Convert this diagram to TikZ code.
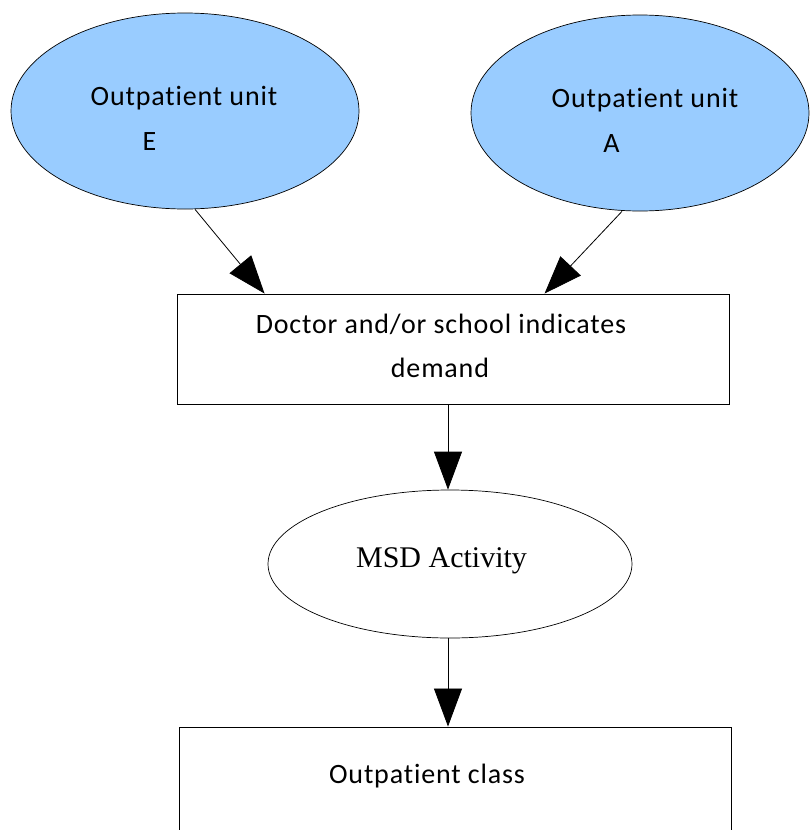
\documentclass[tikz,border=0pt]{standalone}
\usepackage{fontspec}
\setmainfont{Carlito}[LetterSpace=3,Ligatures=NoCommon]
\newfontfamily\serifmsd{Liberation Serif}
\usetikzlibrary{shapes.geometric,arrows.meta}
\definecolor{unitblue}{HTML}{99CCFF}
\tikzset{
  unit/.style={ellipse, draw=black, fill=unitblue, line width=0.7pt, inner sep=0pt},
  activity/.style={ellipse, draw=black, fill=white, line width=0.7pt, inner sep=0pt},
  boxnode/.style={rectangle, draw=black, line width=0.9pt, inner sep=0pt},
  lbl/.style={anchor=base, inner sep=0pt, font=\fontsize{28}{28}\selectfont},
  flow/.style={line width=0.8pt, -{Triangle[length=38pt,width=28pt]}}
}
\begin{document}
\begin{tikzpicture}[x=1pt,y=-1pt]
\useasboundingbox (0,0) rectangle (809,830);
% shapes
\node[unit, minimum width=348pt, minimum height=196pt] (ue) at (185,111) {};
\node[unit, minimum width=338pt, minimum height=196pt] (ua) at (640,113) {};
\node[boxnode, minimum width=552pt, minimum height=110pt] (b1) at (453,349) {};
\node[activity, minimum width=364pt, minimum height=148pt] (msd) at (450,564) {};
\node[boxnode, minimum width=552pt, minimum height=160pt] (b2) at (455,807) {};
% texts
\node[lbl] (tue1) at (184,105) {Outpatient unit};
\node[lbl] (tue2) at (149.5,150) {E};
\node[lbl] (tua1) at (645,107) {Outpatient unit};
\node[lbl] (tua2) at (611.5,152) {A};
\node[lbl] (tb1a) at (441,333) {Doctor and/or school indicates};
\node[lbl] (tb1b) at (440,377) {demand};
\node[anchor=base, inner sep=0pt, font=\serifmsd\fontsize{30}{30}\selectfont] (tmsd) at (441.5,567) {MSD Activity};
\node[lbl] (tb2) at (427,783) {Outpatient class};
% connectors
\draw[flow] ([xshift=10pt]ue.south) -- ([xshift=88pt]b1.north west);
\draw[flow] ([xshift=-18pt]ua.south) -- ([xshift=368pt]b1.north west);
\draw[flow] ([xshift=-5pt]b1.south) -- ([xshift=-2pt]msd.north);
\draw[flow] ([xshift=-2pt]msd.south) -- ([xshift=-2pt]msd.south |- b2.north);
\end{tikzpicture}
\end{document}
